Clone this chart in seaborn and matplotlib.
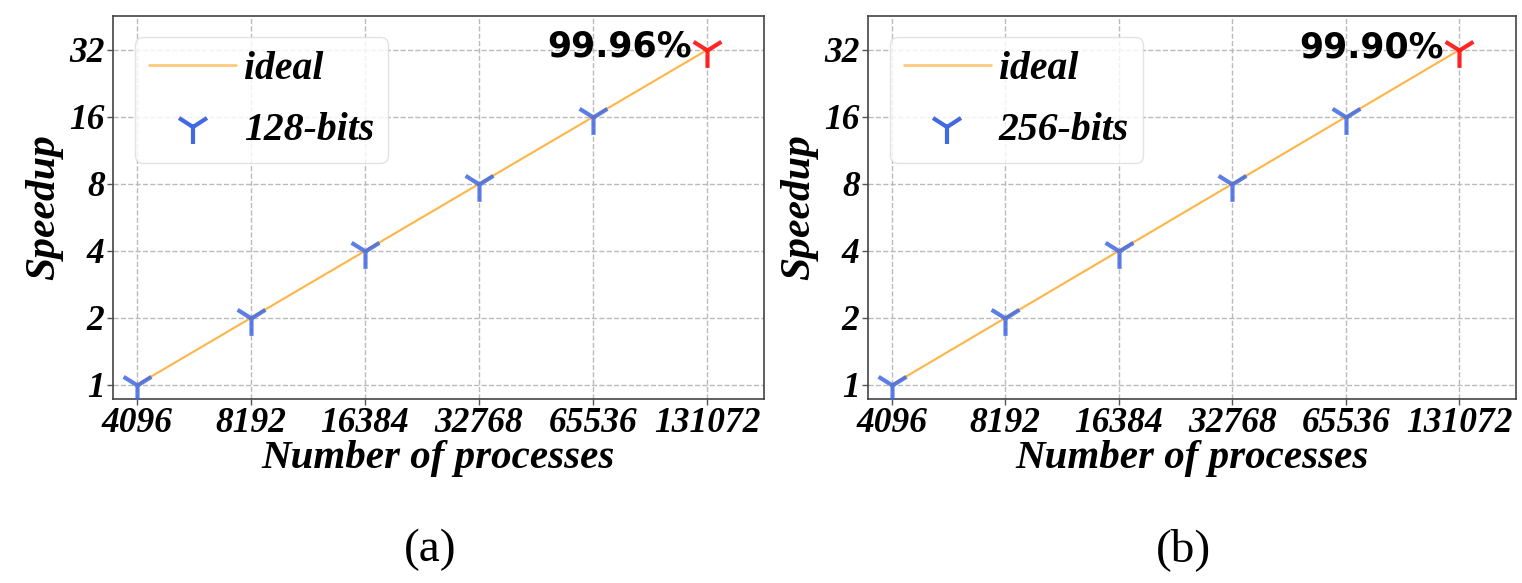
import numpy as np
import pandas as pd
import matplotlib
matplotlib.use("Agg")
import matplotlib.pyplot as plt
from matplotlib.lines import Line2D
import seaborn as sns

# Strong-scaling measurements
processes = [4096, 8192, 16384, 32768, 65536, 131072]
ideal_speedup = [1, 2, 4, 8, 16, 32]
speedup_128 = [1.0, 2.0, 4.0, 7.99, 15.99, 31.987]
speedup_256 = [1.0, 1.99, 3.99, 7.98, 15.97, 31.968]
panel_labels = ["128-bits", "256-bits"]
captions = ["(a)", "(b)"]
x_tick_labels = ["4096", "8192", "16384", "32768", "65536", "131072"]
y_tick_labels = ["1", "2", "4", "8", "16", "32"]

sns.set_theme(style="white")
plt.rcParams["font.family"] = ["DejaVu Sans"]
plt.rcParams.update({"text.color": "black", "axes.labelcolor": "black",
                     "xtick.color": "black", "ytick.color": "black"})

serif_bi = dict(family="Liberation Serif", weight="bold", style="italic")

fig = plt.figure(figsize=(15.22, 5.83), dpi=100)
W, H = 1522, 583
axes_px = [(113, 764), (868, 1516)]
top_px, bot_px = 16, 399

for i, (speed, name) in enumerate(zip([speedup_128, speedup_256], panel_labels)):
    l, r = axes_px[i]
    ax = fig.add_axes([l / W, 1 - bot_px / H, (r - l) / W, (bot_px - top_px) / H])
    ax.set_xscale("log", base=2)
    ax.set_yscale("log", base=2)

    df = pd.DataFrame({"procs": processes, "ideal": ideal_speedup, "speedup": speed})

    sns.lineplot(data=df, x="procs", y="ideal", ax=ax, color="#FFA726",
                 alpha=0.85, linewidth=1.5, zorder=2)
    sns.scatterplot(data=df.iloc[:-1], x="procs", y="speedup", ax=ax,
                    marker="1", s=25 ** 2, color="royalblue", linewidths=3,
                    alpha=0.85, zorder=3)
    sns.scatterplot(data=df.iloc[-1:], x="procs", y="speedup", ax=ax,
                    marker="1", s=25 ** 2, color="red", linewidths=3,
                    alpha=0.85, zorder=3)

    eff = speed[-1] / ideal_speedup[-1] * 100
    ax.annotate(f"{eff:.2f}%", xy=(processes[-1], speed[-1]),
                xytext=(-11, -5), textcoords="offset points",
                ha="right", va="baseline", fontsize=25, fontweight="bold",
                family="DejaVu Sans", color="black", zorder=4)

    ax.set_xlim(processes[0] * 2 ** -0.21, processes[-1] * 2 ** 0.5)
    ax.set_ylim(ideal_speedup[0] * 2 ** -0.21, ideal_speedup[-1] * 2 ** 0.507)
    ax.set_xticks(processes)
    ax.set_xticklabels(x_tick_labels, fontdict=serif_bi, fontsize=25.5)
    ax.set_yticks(ideal_speedup)
    ax.set_yticklabels(y_tick_labels, fontdict=serif_bi, fontsize=25.5)
    ax.minorticks_off()
    ax.tick_params(axis="both", which="major", direction="out", length=4,
                   width=1, color="#555555", pad=2, bottom=True, left=True)

    ax.grid(True, linestyle="--", color="#BBBBBB", linewidth=1)
    for s in ax.spines.values():
        s.set_color("#444444")
        s.set_linewidth(1.2)

    ax.set_xlabel("Number of processes", fontdict=serif_bi, fontsize=29.5, labelpad=0)
    ax.set_ylabel("Speedup", fontdict=serif_bi, fontsize=30, labelpad=4)

    handles = [
        Line2D([], [], color="#FFA726", alpha=0.6, linewidth=2),
        Line2D([], [], color="royalblue", marker="1", linestyle="",
               markersize=25, markeredgewidth=3),
    ]
    leg = ax.legend(handles, ["ideal", name], loc="upper left",
                    bbox_to_anchor=(0.034, 0.945), borderaxespad=0,
                    prop=dict(serif_bi, size=28.5),
                    frameon=True, handlelength=2.2, borderpad=0.35,
                    labelspacing=0.62, handletextpad=0.2)
    leg.get_frame().set_edgecolor("#DDDDDD")
    leg.get_frame().set_alpha(0.8)

    fig.text(((l + r) / 2 - 8) / W, 1 - 550 / H, captions[i],
             family="Liberation Serif", fontsize=34, ha="center", va="center")

fig.savefig("out.png", dpi=100)
